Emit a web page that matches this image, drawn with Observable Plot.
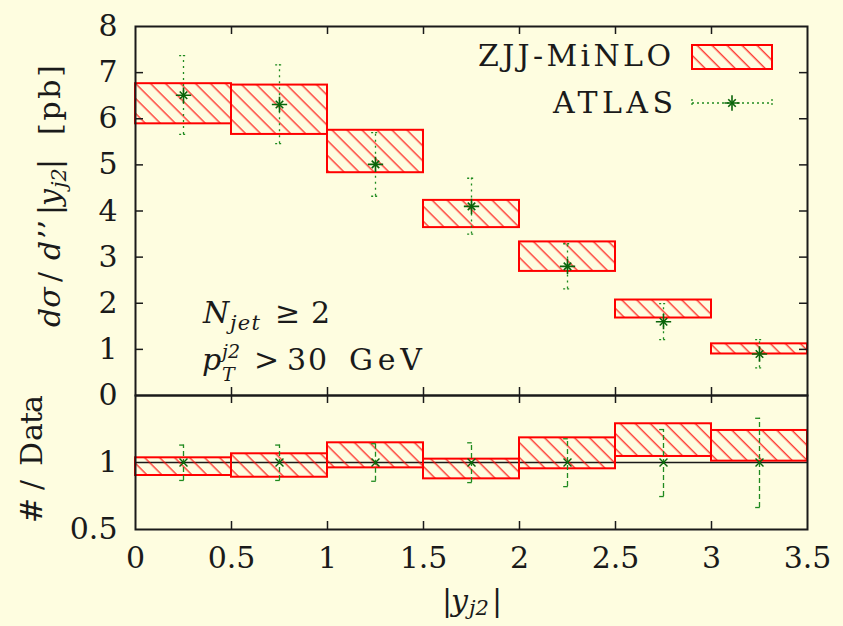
<!DOCTYPE html>
<html><head><meta charset="utf-8">
<script src="https://cdn.jsdelivr.net/npm/d3@7"></script>
<script src="https://cdn.jsdelivr.net/npm/@observablehq/plot@0.6"></script>
<style>
html,body{margin:0;padding:0;background:#fefde0;}
#wrap{position:relative;width:843px;height:626px;overflow:hidden;background:#fefde0;font-family:"DejaVu Serif",serif;}
#wrap svg{position:absolute;left:0;}
#wrap text, #wrap tspan{font-family:"DejaVu Serif",serif;}
</style></head><body>
<div id="wrap">
<svg width="0" height="0" style="position:absolute;top:0;left:0"><defs>
<pattern id="hatch" patternUnits="userSpaceOnUse" width="10.6" height="10.6" patternTransform="rotate(-45)">
<line x1="5" y1="-1" x2="5" y2="12" stroke="#ff0000" stroke-width="1.1"/>
</pattern></defs></svg>
</div>
<script>
// ---- data ----
const binLo = [0, 0.5, 1, 1.5, 2, 2.5, 3];
const binHi = [0.5, 1, 1.5, 2, 2.5, 3, 3.5];
const minloLo = [5.89, 5.66, 4.83, 3.64, 2.69, 1.68, 0.90];
const minloHi = [6.76, 6.73, 5.75, 4.23, 3.33, 2.07, 1.12];
const atlasX = [0.25, 0.75, 1.25, 1.75, 2.25, 2.75, 3.25];
const atlasY = [6.51, 6.31, 5.01, 4.10, 2.80, 1.60, 0.90];
const atlasLo = [5.66, 5.46, 4.32, 3.50, 2.31, 1.21, 0.60];
const atlasHi = [7.37, 7.17, 5.70, 4.71, 3.29, 1.99, 1.21];
const ratioLo = [0.903, 0.890, 0.960, 0.878, 0.953, 1.045, 1.010];
const ratioHi = [1.035, 1.065, 1.147, 1.025, 1.184, 1.289, 1.239];
const dataRatioLo = [0.866, 0.866, 0.860, 0.850, 0.820, 0.746, 0.664];
const dataRatioHi = [1.130, 1.130, 1.140, 1.147, 1.177, 1.246, 1.330];
const xTickLabels = [0, 0.5, 1, 1.5, 2, 2.5, 3, 3.5];
const xInnerTicks = [0.5, 1, 1.5, 2, 2.5, 3];
const yTickLabels = [0, 1, 2, 3, 4, 5, 6, 7, 8];
const yInnerTicks = [1, 2, 3, 4, 5, 6, 7];
const rTickLabels = [0.5, 1];
const seriesNames = ["ZJJ-MiNLO", "ATLAS"];

const bins = binLo.map((lo, i) => ({x1: lo, x2: binHi[i], lo: minloLo[i], hi: minloHi[i], rlo: ratioLo[i], rhi: ratioHi[i]}));
const atlas = atlasX.map((x, i) => ({x, y: atlasY[i], lo: atlasLo[i], hi: atlasHi[i], r: 1, rlo: dataRatioLo[i], rhi: dataRatioHi[i]}));

// ---- styles ----
const RED = "#ff0000", GREEN = "#1f8a1f", DGREEN = "#0a640a", INK = "#1a1a1a";
const FONT = "DejaVu Serif";
const FS = 30;                 // main text size
const SUB = 21;                // sub/superscript size
const cap = 0.02;
const xDom = [0, 3.5];
const tkX = 8 / 192;          // 8px in x units
const tkYt = 8 / 46.125;      // 8px in top y units
const tkYb = 8 / 134;         // 8px in ratio y units

const common = {
  width: 843, marginLeft: 135, marginRight: 36,
  style: {background: "transparent", fontFamily: FONT, fontSize: FS + "px", color: INK}
};

const topPlot = Plot.plot({
  ...common,
  height: 420, marginTop: 26, marginBottom: 25,
  x: {domain: xDom, axis: null},
  y: {domain: [0, 8]},
  marks: [
    Plot.rect(bins, {x1: "x1", x2: "x2", y1: "lo", y2: "hi", fill: "url(#hatch)", stroke: RED, strokeWidth: 2}),
    Plot.ruleX(atlas, {x: "x", y1: "lo", y2: "hi", stroke: GREEN, strokeWidth: 1.3, strokeDasharray: "2,4"}),
    Plot.ruleY(atlas, {y: "hi", x1: d => d.x - cap, x2: d => d.x + cap, stroke: GREEN, strokeWidth: 1.3, strokeDasharray: "2,2"}),
    Plot.ruleY(atlas, {y: "lo", x1: d => d.x - cap, x2: d => d.x + cap, stroke: GREEN, strokeWidth: 1.3, strokeDasharray: "2,2"}),
    Plot.dot(atlas, {x: "x", y: "y", symbol: "plus", r: 5, stroke: DGREEN, strokeWidth: 1.6}),
    Plot.dot(atlas, {x: "x", y: "y", symbol: "times", r: 3.5, stroke: DGREEN, strokeWidth: 1.6}),
    Plot.ruleX(xInnerTicks, {x: d => d, y1: 0, y2: tkYt, stroke: INK, strokeWidth: 1.5}),
    Plot.ruleX(xInnerTicks, {x: d => d, y1: 8 - tkYt, y2: 8, stroke: INK, strokeWidth: 1.5}),
    Plot.ruleY(yInnerTicks, {y: d => d, x1: 0, x2: tkX, stroke: INK, strokeWidth: 1.5}),
    Plot.ruleY(yInnerTicks, {y: d => d, x1: 3.5 - tkX, x2: 3.5, stroke: INK, strokeWidth: 1.5}),
    Plot.frame({stroke: INK, strokeWidth: 2}),
    Plot.axisY(yTickLabels, {anchor: "left", tickSize: 0, tickPadding: 18, label: null, tickFormat: d => String(d)})
  ]
});
topPlot.style.top = "0px";
document.getElementById("wrap").appendChild(topPlot);

const botPlot = Plot.plot({
  ...common,
  height: 246, marginTop: 15, marginBottom: 97,
  x: {domain: xDom},
  y: {domain: [0.5, 1.5]},
  marks: [
    Plot.ruleY([1], {stroke: INK, strokeWidth: 1.5}),
    Plot.rect(bins, {x1: "x1", x2: "x2", y1: "rlo", y2: "rhi", fill: "url(#hatch)", stroke: RED, strokeWidth: 2}),
    Plot.ruleX(atlas, {x: "x", y1: "rlo", y2: "rhi", stroke: GREEN, strokeWidth: 1.3, strokeDasharray: "5,3"}),
    Plot.ruleY(atlas, {y: "rhi", x1: d => d.x - cap, x2: d => d.x + cap * 0.2, stroke: GREEN, strokeWidth: 1.3}),
    Plot.ruleY(atlas, {y: "rlo", x1: d => d.x - cap, x2: d => d.x + cap * 0.2, stroke: GREEN, strokeWidth: 1.3}),
    Plot.dot(atlas, {x: "x", y: "r", symbol: "times", r: 3.7, stroke: DGREEN, strokeWidth: 1.4}),
    Plot.ruleX(xInnerTicks, {x: d => d, y1: 0.5, y2: 0.5 + tkYb, stroke: INK, strokeWidth: 1.5}),
    Plot.ruleX(xInnerTicks, {x: d => d, y1: 1.5 - tkYb, y2: 1.5, stroke: INK, strokeWidth: 1.5}),
    Plot.frame({stroke: INK, strokeWidth: 2}),
    Plot.axisY(rTickLabels, {anchor: "left", tickSize: 0, tickPadding: 18, label: null, tickFormat: d => String(d)}),
    Plot.axisX(xTickLabels, {anchor: "bottom", tickSize: 0, tickPadding: 17, label: null, tickFormat: d => String(d)})
  ]
});
botPlot.style.top = "380px";
document.getElementById("wrap").appendChild(botPlot);

// ---- text overlay: axis titles, annotations, legend ----
const ov = d3.select("#wrap").append("svg")
  .attr("width", 843).attr("height", 626).style("top", "0px")
  .attr("font-family", FONT).attr("fill", INK).attr("font-size", FS);

// a text whose origin is (x,y) in page pixels; piece offsets in pixels from that origin
function T(x, y, rot = 0) {
  return ov.append("text").attr("transform", `translate(${x},${y})${rot ? ` rotate(${rot})` : ""}`);
}
function piece(t, str, x, opts = {}) {
  const s = t.append("tspan").attr("x", x).text(str);
  if (opts.italic) s.attr("font-style", "italic");
  if (opts.size) s.attr("font-size", opts.size);
  if (opts.dy != null) s.attr("dy", opts.dy);
  if (opts.len) s.attr("textLength", opts.len).attr("lengthAdjust", "spacing");
  return s;
}

// y title (top), rotated; offsets run upward from y=327
const yl = T(60, 327, -90);
piece(yl, "dσ", 0, {italic: true});
piece(yl, "/", 45);
piece(yl, "d", 67, {italic: true});
piece(yl, "’’", 88);
piece(yl, "|", 112);
piece(yl, "y", 121, {italic: true});
piece(yl, "j2", 139, {italic: true, size: SUB, dy: 6});
piece(yl, "|", 158, {dy: -6});
piece(yl, "[pb]", 192, {len: 70});

// y title (ratio), rotated; offsets run upward from y=523
const rl = T(42, 523, -90);
piece(rl, "#", 0, {len: 29});
piece(rl, "/", 33);
piece(rl, "D", 57);
piece(rl, "ata", 82, {len: 46});

// x title
const xl = T(442, 611);
piece(xl, "|", 0);
piece(xl, "y", 9, {italic: true});
piece(xl, "j2", 27, {italic: true, size: SUB, dy: 4});
piece(xl, "|", 50, {dy: -4});

// annotations
const a1 = T(203, 323);
piece(a1, "N", 0, {italic: true});
piece(a1, "jet", 27, {italic: true, size: SUB, dy: 7, len: 30});
piece(a1, "≥", 72, {dy: -7});
piece(a1, "2", 108);

const a2 = T(202, 370);
piece(a2, "p", 0, {italic: true});
piece(a2, "j2", 20, {italic: true, size: 19, dy: -12});
piece(a2, "T", 20, {italic: true, size: 19, dy: 23});
piece(a2, ">", 52, {dy: -11});
piece(a2, "30", 85, {len: 40});
piece(a2, "GeV", 147, {len: 73});

// legend
piece(T(478, 66), seriesNames[0], 0, {len: 193});
piece(T(553, 113), seriesNames[1], 0, {len: 120});
ov.append("rect").attr("x", 692).attr("y", 45).attr("width", 80).attr("height", 24)
  .attr("fill", "url(#hatch)").attr("stroke", RED).attr("stroke-width", 2);
ov.append("line").attr("x1", 692).attr("x2", 772).attr("y1", 103).attr("y2", 103)
  .attr("stroke", GREEN).attr("stroke-width", 1.3).attr("stroke-dasharray", "2,3");
[692, 772].forEach(x => ov.append("line").attr("x1", x).attr("x2", x).attr("y1", 99).attr("y2", 107)
  .attr("stroke", GREEN).attr("stroke-width", 1.3).attr("stroke-dasharray", "2,2"));
ov.append("path").attr("transform", "translate(732,103)")
  .attr("d", d3.symbol(d3.symbolPlus, Math.PI * 25)()).attr("stroke", DGREEN).attr("stroke-width", 1.6).attr("fill", "none");
ov.append("path").attr("transform", "translate(732,103)")
  .attr("d", d3.symbol(d3.symbolTimes, Math.PI * 12.25)()).attr("stroke", DGREEN).attr("stroke-width", 1.6).attr("fill", "none");
</script>
</body></html>
